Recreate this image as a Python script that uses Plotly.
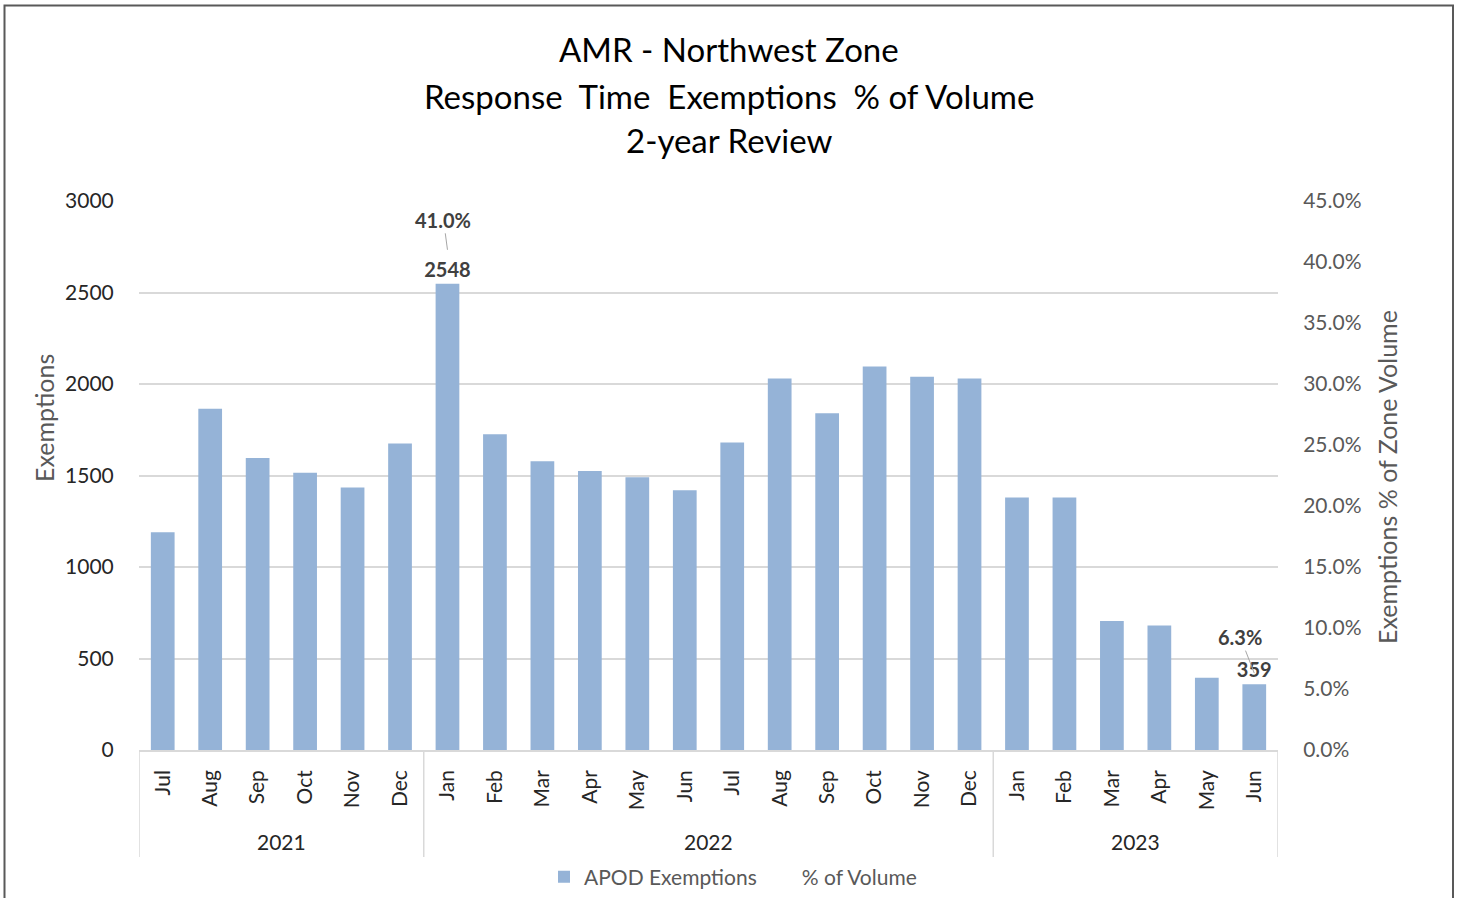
import plotly.graph_objects as go

# ---- data ----
months = ["Jul", "Aug", "Sep", "Oct", "Nov", "Dec",
          "Jan", "Feb", "Mar", "Apr", "May", "Jun",
          "Jul", "Aug", "Sep", "Oct", "Nov", "Dec",
          "Jan", "Feb", "Mar", "Apr", "May", "Jun"]
years = ["2021", "2022", "2023"]
year_counts = [6, 12, 6]
exemptions = [1190, 1865, 1595, 1515, 1435, 1675,
              2548, 1725, 1578, 1525, 1490, 1420,
              1680, 2030, 1840, 2095, 2040, 2030,
              1380, 1380, 705, 680, 395, 359]
pct_volume = [None] * 24
pct_volume[6] = 41.0
pct_volume[23] = 6.3
labeled_bars = [6, 23]

FONT = "Lato"
BAR = "#95B3D7"
xs = list(range(len(months)))

fig = go.Figure()
fig.add_trace(go.Bar(
    x=xs, y=exemptions, name="APOD Exemptions",
    marker=dict(color=BAR, line=dict(width=0)),
    text=[f"<b>{v}</b>" if i in labeled_bars else "" for i, v in enumerate(exemptions)],
    textposition="outside", constraintext="none",
    textfont=dict(family=FONT, size=20, color="#404040"),
    cliponaxis=False,
))
fig.add_trace(go.Scatter(
    x=xs, y=pct_volume, name="% of Volume", yaxis="y2",
    mode="lines", line=dict(color="rgba(0,0,0,0)"), connectgaps=False,
))

L, R, T, B = 139, 1278, 201, 750
W, H = 1458, 898
pw, ph = R - L, B - T

def py(px):
    return (B - px) / ph

def pxx(px):
    return (px - L) / pw

annotations = []
# title lines
for txt, ypix in [("AMR - Northwest Zone", 49),
                  ("Response&nbsp; Time&nbsp; Exemptions&nbsp; % of Volume", 96),
                  ("2-year Review", 140)]:
    annotations.append(dict(text=txt, xref="paper", yref="paper", x=pxx(729), y=py(ypix),
                            xanchor="center", yanchor="middle", showarrow=False,
                            font=dict(family=FONT, size=33, color="#000000")))
# axis titles
annotations.append(dict(text="Exemptions", xref="paper", yref="paper", x=pxx(44), y=py(418),
                        textangle=-90, showarrow=False, xanchor="center", yanchor="middle",
                        font=dict(family=FONT, size=25, color="#595959")))
annotations.append(dict(text="Exemptions % of Zone Volume", xref="paper", yref="paper",
                        x=pxx(1387), y=py(477), textangle=-90, showarrow=False,
                        xanchor="center", yanchor="middle",
                        font=dict(family=FONT, size=25, color="#595959")))
# year labels
start = 0
for yr, n in zip(years, year_counts):
    annotations.append(dict(text=yr, xref="x", yref="paper", x=start + (n - 1) / 2, y=py(841),
                            showarrow=False, xanchor="center", yanchor="middle",
                            font=dict(family=FONT, size=21, color="#262626")))
    start += n
# percentage labels with leader lines
offsets = {6: (-4, -30), 23: (-14, -36)}
for i, v in enumerate(pct_volume):
    if v is not None:
        ax, ay = offsets.get(i, (0, -30))
        annotations.append(dict(text=f"<b>{v:.1f}%</b>", xref="x", yref="y2", x=i, y=v,
                                ax=ax, ay=ay, showarrow=True, arrowhead=0, arrowwidth=1,
                                arrowcolor="#A6A6A6", standoff=0,
                                font=dict(family=FONT, size=20, color="#404040")))

shapes = []
# group separators
bounds = [-0.5]
acc = -0.5
for n in year_counts:
    acc += n
    bounds.append(acc)
for b in bounds:
    shapes.append(dict(type="line", xref="x", yref="paper", x0=b, x1=b, y0=0, y1=py(857),
                       line=dict(color="#D9D9D9", width=1.5)))
# outer chart border
shapes.append(dict(type="rect", xref="paper", yref="paper",
                   x0=pxx(4.5), x1=pxx(1453), y0=py(5.5), y1=py(910),
                   line=dict(color="#595959", width=2), fillcolor="rgba(0,0,0,0)"))

fig.update_layout(
    width=W, height=H,
    margin=dict(l=L, r=W - R, t=T, b=H - B, autoexpand=False),
    paper_bgcolor="white", plot_bgcolor="white",
    bargap=0.5,
    showlegend=True,
    legend=dict(orientation="h", x=pxx(733), xanchor="center",
                yref="container", y=1 - 877 / H, yanchor="middle",
                font=dict(family=FONT, size=21, color="#595959"), itemwidth=30,
                bgcolor="rgba(0,0,0,0)"),
    xaxis=dict(range=[-0.5, 23.5], tickmode="array", tickvals=xs, ticktext=months,
               tickangle=-90, showgrid=False, zeroline=False, showline=True,
               linecolor="#D9D9D9", linewidth=1.5, ticks="", ticklabelstandoff=10,
               tickfont=dict(family=FONT, size=21, color="#262626")),
    yaxis=dict(range=[0, 3000], tickmode="array", tickvals=list(range(0, 3001, 500)),
               showgrid=True, gridcolor="#D9D9D9", gridwidth=1.5, zeroline=False,
               showline=False, ticks="outside", ticklen=20, tickcolor="rgba(0,0,0,0)",
               tickfont=dict(family=FONT, size=21, color="#262626")),
    yaxis2=dict(range=[0, 45], overlaying="y", side="right", tickmode="array",
                tickvals=list(range(0, 46, 5)), ticktext=[f"{v:.1f}%" for v in range(0, 46, 5)],
                showgrid=False, zeroline=False, showline=False,
                ticks="outside", ticklen=20, tickcolor="rgba(0,0,0,0)",
                tickfont=dict(family=FONT, size=21, color="#595959")),
    annotations=annotations, shapes=shapes,
)

fig.write_html("out.html", config={"displayModeBar": False},
               post_script="document.body.style.margin='0';")
